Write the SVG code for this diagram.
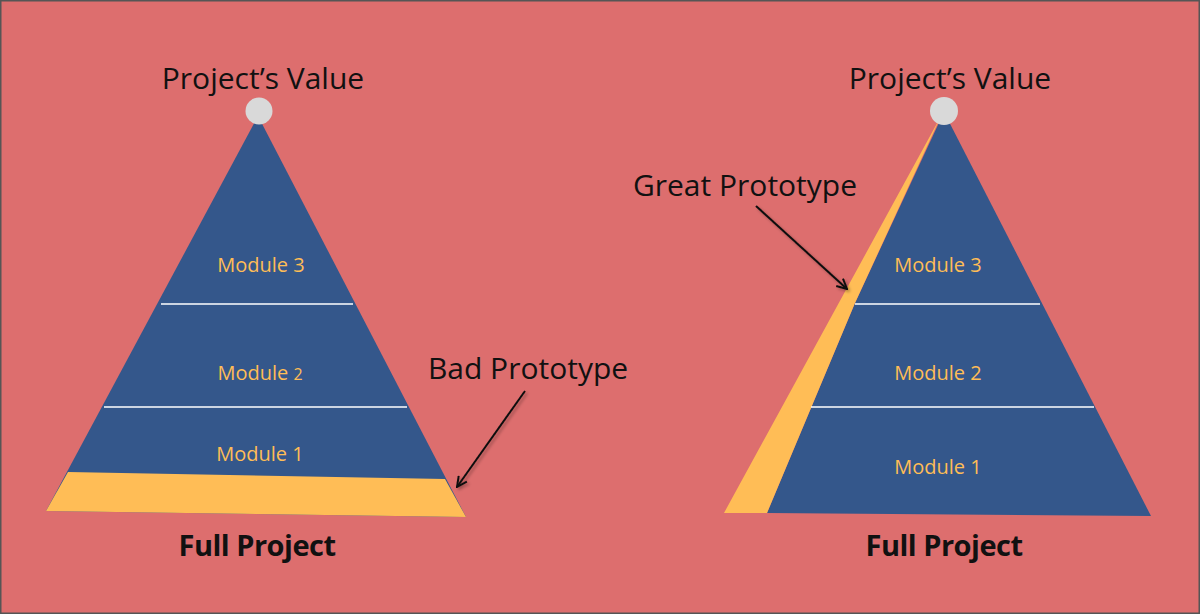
<svg xmlns="http://www.w3.org/2000/svg" width="1200" height="614" viewBox="0 0 1200 614">
  <defs>
    <style>
      .title { font-family: "Open Sans", "Noto Sans", sans-serif; font-size: 30px; fill: #111; text-anchor: middle; }
      .full { font-family: "Open Sans", "Noto Sans", sans-serif; font-size: 29px; font-weight: bold; fill: #111; text-anchor: middle; letter-spacing: -0.5px; }
      .mod { font-family: "Open Sans", "Noto Sans", sans-serif; font-size: 20px; fill: #FFBD56; text-anchor: middle; }
      .blue { fill: #34578B; }
      .yellow { fill: #FFBD56; }
      .sep { stroke: #FFFFFF; stroke-width: 1.5; }
      .dot { fill: #D9D9D9; }
      .arrow { stroke: #111; stroke-width: 2; fill: none; marker-end: url(#head); filter: url(#shadow); }
    </style>
    <marker id="head" viewBox="0 0 12 12" refX="11" refY="6" markerWidth="12" markerHeight="12" markerUnits="userSpaceOnUse" orient="auto">
      <polyline points="1,1 11,6 1,11" fill="none" stroke="#111" stroke-width="2"/>
    </marker>
    <filter id="shadow" x="-20%" y="-20%" width="140%" height="140%">
      <feDropShadow dx="2" dy="2" stdDeviation="1.5" flood-color="#000" flood-opacity="0.3"/>
    </filter>
  </defs>
  <rect x="0.75" y="0.75" width="1198.5" height="612.5" fill="#DD6E6E" stroke="#555" stroke-width="1.5"/>

  <g id="left-pyramid">
    <polygon class="blue" points="258,116 466,517 46,511"/>
    <polygon class="yellow" points="68,472 445,479 466,517 46,511"/>
    <line class="sep" x1="161" y1="304" x2="353" y2="304"/>
    <line class="sep" x1="104" y1="407" x2="407" y2="407"/>
    <circle class="dot" cx="259" cy="111" r="13.5"/>
  </g>
  <g id="left-module3"><text class="mod" x="261" y="272">Module 3</text></g>
  <g id="left-module2"><text class="mod" x="260" y="380">Module <tspan font-size="16px">2</tspan></text></g>
  <g id="left-module1"><text class="mod" x="260" y="461">Module 1</text></g>
  <g id="left-value"><text class="title" x="263" y="89">Project’s Value</text></g>
  <g id="left-full"><text class="full" x="257" y="556">Full Project</text></g>
  <g id="bad-prototype"><text class="title" x="528" y="379">Bad Prototype</text></g>

  <g id="right-pyramid">
    <polygon class="blue" points="944,112 1151,516 767,513 855,303"/>
    <polygon class="yellow" points="941,116 855,303 767,513 724,513"/>
    <line class="sep" x1="855" y1="304" x2="1040" y2="304"/>
    <line class="sep" x1="811" y1="407" x2="1094" y2="407"/>
    <circle class="dot" cx="944" cy="111" r="14"/>
  </g>
  <g id="right-module3"><text class="mod" x="938" y="272">Module 3</text></g>
  <g id="right-module2"><text class="mod" x="938" y="380">Module 2</text></g>
  <g id="right-module1"><text class="mod" x="938" y="474">Module 1</text></g>
  <g id="right-value"><text class="title" x="950" y="89">Project’s Value</text></g>
  <g id="right-full"><text class="full" x="944" y="556">Full Project</text></g>
  <g id="great-prototype"><text class="title" x="745" y="196">Great Prototype</text></g>

  <g id="connectors">
    <line class="arrow" x1="525" y1="391" x2="457" y2="487"/>
    <line class="arrow" x1="756" y1="206" x2="847" y2="289"/>
  </g>
</svg>
